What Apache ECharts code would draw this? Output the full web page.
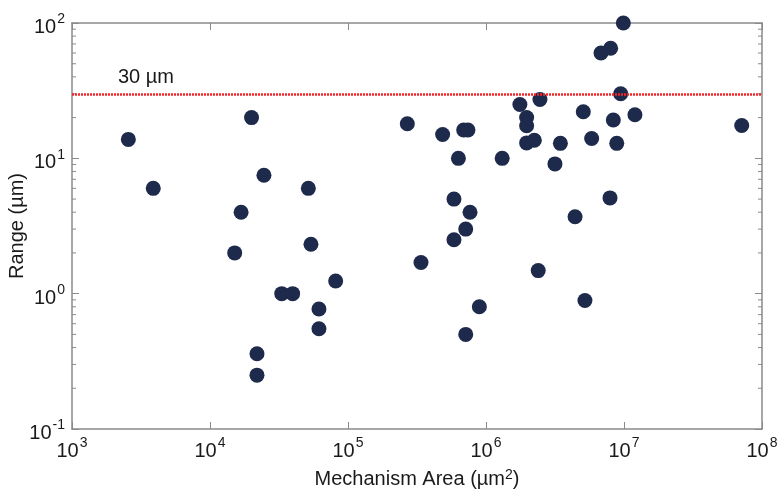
<!DOCTYPE html>
<html>
<head>
<meta charset="utf-8">
<script src="https://cdn.jsdelivr.net/npm/echarts@6/dist/echarts.min.js"></script>
<style>
html,body{margin:0;padding:0;background:#fff;}
#chart{width:779px;height:493px;}
</style>
</head>
<body>
<div id="chart"></div>
<script>
// Mechanism area (µm²)
var areaValues = [2560, 3880, 15100, 16800, 20000, 21900, 21900, 24600, 33100, 39700,
  51600, 53900, 61600, 61600, 81400, 269000, 338000, 485000, 586000, 586000,
  631000, 689000, 740000, 713000, 766000, 713000, 895000, 1310000, 1760000, 1970000,
  1970000, 1970000, 2240000, 2460000, 2390000, 3160000, 3460000, 4420000, 5070000, 5210000,
  5830000, 6810000, 7920000, 8000000, 8370000, 8860000, 9460000, 9890000, 12000000, 71300000];
// Range (µm)
var rangeValues = [13.8, 6.0, 2.0, 4.0, 20, 0.36, 0.25, 7.5, 1.0, 1.0,
  6.0, 2.32, 0.77, 0.55, 1.24, 18, 1.7, 15, 5.0, 2.5,
  10, 16.2, 16.2, 3.0, 4.0, 0.5, 0.8, 10, 25, 20,
  17.4, 13, 13.6, 27.2, 1.48, 9.1, 12.9, 3.7, 22.1, 0.89,
  14, 60, 5.1, 65, 19.2, 12.9, 30, 100, 21, 17.5];
var thresholdValue = 30;
var thresholdLabel = '30 \u00b5m';
var xTitle = 'Mechanism Area (\u00b5m{s|2})';
var yTitle = 'Range (\u00b5m)';
var xMin = 1e3, xMax = 1e8, yMin = 1e-1, yMax = 1e2;

var points = areaValues.map(function (a, i) { return [a, rangeValues[i]]; });

// minor tick positions (2..9 x 10^k)
function minorList(lo, hi) {
  var out = [];
  for (var e = Math.round(Math.log10(lo)); e < Math.round(Math.log10(hi)); e++) {
    for (var m = 2; m <= 9; m++) out.push(m * Math.pow(10, e));
  }
  return out;
}
var xMinor = minorList(xMin, xMax);
var yMinor = minorList(yMin, yMax);

var axisColor = '#8a8a8a';
var textColor = '#1a1a1a';
var fontFam = 'Liberation Sans, Arial, sans-serif';

function powLabel(v) {
  var e = Math.round(Math.log10(v));
  return '{b|10}{s|' + e + '}';
}
var labelRich = {
  b: { fontSize: 20, fontFamily: fontFam, color: textColor, padding: [9, 0, 0, 0] },
  s: { fontSize: 14, fontFamily: fontFam, color: textColor, padding: [0, 0, 7, 1] }
};

var chart = echarts.init(document.getElementById('chart'));

var minorData = [];
xMinor.forEach(function (v) { minorData.push(['x', v]); });
yMinor.forEach(function (v) { minorData.push(['y', v]); });

chart.setOption({
  animation: false,
  grid: { left: 72, right: 17, top: 23, bottom: 64, containLabel: false, outerBoundsMode: 'none' },
  xAxis: [{
    type: 'log', logBase: 10, min: xMin, max: xMax, position: 'bottom',
    axisLine: { show: true, lineStyle: { color: axisColor, width: 1.5 } },
    axisTick: { show: true, inside: true, length: 7, lineStyle: { color: axisColor } },
    splitLine: { show: false },
    axisLabel: { formatter: powLabel, rich: labelRich, margin: 3 },
    name: xTitle, nameLocation: 'middle', nameGap: 39, nameMoveOverlap: false,
    nameTextStyle: { fontSize: 20, fontFamily: fontFam, color: textColor,
      rich: { s: { fontSize: 14, fontFamily: fontFam, color: textColor, padding: [0, 0, 9, 0] } } }
  }, {
    type: 'log', logBase: 10, min: xMin, max: xMax, position: 'top',
    axisLine: { show: true, lineStyle: { color: axisColor, width: 1.5 } },
    axisTick: { show: true, inside: true, length: 7, lineStyle: { color: axisColor } },
    splitLine: { show: false }, axisLabel: { show: false }
  }],
  yAxis: [{
    type: 'log', logBase: 10, min: yMin, max: yMax, position: 'left',
    axisLine: { show: true, lineStyle: { color: axisColor, width: 1.5 } },
    axisTick: { show: true, inside: true, length: 7, lineStyle: { color: axisColor } },
    splitLine: { show: false },
    axisLabel: { formatter: powLabel, rich: labelRich, margin: 7 },
    name: yTitle, nameLocation: 'middle', nameGap: 45, nameRotate: 90, nameMoveOverlap: false,
    nameTextStyle: { fontSize: 20, fontFamily: fontFam, color: textColor }
  }, {
    type: 'log', logBase: 10, min: yMin, max: yMax, position: 'right',
    axisLine: { show: true, lineStyle: { color: axisColor, width: 1.5 } },
    axisTick: { show: true, inside: true, length: 7, lineStyle: { color: axisColor } },
    splitLine: { show: false }, axisLabel: { show: false }
  }],
  series: [{
    type: 'custom',
    xAxisIndex: 0, yAxisIndex: 0,
    silent: true,
    clip: false,
    data: minorData,
    renderItem: function (params, api) {
      var kind = api.value(0);
      var v = api.value(1);
      var cs = params.coordSys;
      var len = 4;
      var style = { stroke: axisColor, lineWidth: 1 };
      if (kind === 'x') {
        var px = api.coord([v, yMin])[0];
        var y0 = cs.y + cs.height, y1 = cs.y;
        return { type: 'group', children: [
          { type: 'line', shape: { x1: px, y1: y0, x2: px, y2: y0 - len }, style: style },
          { type: 'line', shape: { x1: px, y1: y1, x2: px, y2: y1 + len }, style: style }
        ] };
      } else {
        var py = api.coord([xMin, v])[1];
        var x0 = cs.x, x1 = cs.x + cs.width;
        return { type: 'group', children: [
          { type: 'line', shape: { x1: x0, y1: py, x2: x0 + len, y2: py }, style: style },
          { type: 'line', shape: { x1: x1, y1: py, x2: x1 - len, y2: py }, style: style }
        ] };
      }
    },
    encode: { x: 1 }
  }, {
    type: 'scatter',
    xAxisIndex: 0, yAxisIndex: 0,
    data: points,
    symbol: 'circle',
    symbolSize: 15,
    clip: false,
    itemStyle: { color: '#1d2a4b', opacity: 1 },
    markLine: {
      silent: true,
      symbol: ['none', 'none'],
      lineStyle: { color: '#f0282a', type: [2, 1], width: 2.5 },
      label: {
        show: true, position: 'insideStartTop', formatter: thresholdLabel,
        fontSize: 20, fontFamily: fontFam, color: textColor, distance: [46, 6]
      },
      data: [{ yAxis: thresholdValue }]
    },
    z: 3
  }]
});
</script>
</body>
</html>
